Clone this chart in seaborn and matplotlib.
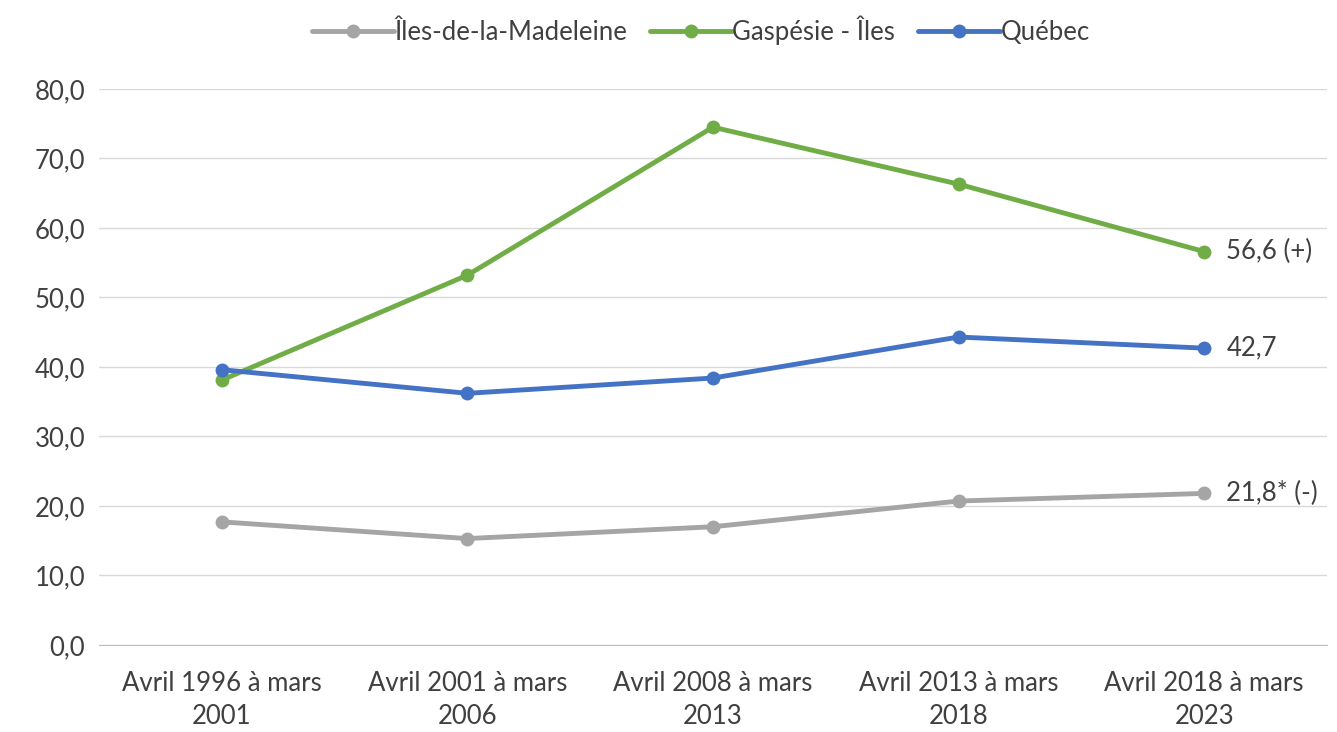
import numpy as np
import pandas as pd
import matplotlib
matplotlib.use('Agg')
import matplotlib.pyplot as plt
import seaborn as sns

periods = ['Avril 1996 à mars\n2001', 'Avril 2001 à mars\n2006', 'Avril 2008 à mars\n2013',
           'Avril 2013 à mars\n2018', 'Avril 2018 à mars\n2023']
series = ['Îles-de-la-Madeleine', 'Gaspésie - Îles', 'Québec']
iles = [17.7, 15.3, 17.0, 20.7, 21.8]
gaspesie = [38.1, 53.2, 74.5, 66.3, 56.6]
quebec = [39.6, 36.2, 38.4, 44.3, 42.7]
end_labels = ['21,8* (-)', '56,6 (+)', '42,7']
colors = ['#A5A5A5', '#70AD47', '#4472C4']

df = pd.DataFrame({
    'x': list(range(len(periods))) * 3,
    'valeur': iles + gaspesie + quebec,
    'serie': [s for s in series for _ in periods],
})

sns.set_style('white')
plt.rcParams['font.family'] = ['Lato', 'DejaVu Sans']

fig = plt.figure(figsize=(13.37, 7.32), dpi=100)
ax = fig.add_axes([0.074, 0.119, 0.9185, 0.7595])

sns.lineplot(data=df, x='x', y='valeur', hue='serie', hue_order=series,
             palette=colors, marker='o', markersize=10, markeredgewidth=0,
             linewidth=3.5, ax=ax, legend=True)

FS = 18.5
ax.set_ylim(0, 80)
ax.set_yticks(np.arange(0, 81, 10))
ax.set_yticklabels([f'{v:.1f}'.replace('.', ',') for v in np.arange(0, 81, 10)],
                   fontsize=FS, color='#404040')
ax.set_xlim(-0.5, len(periods) - 0.5)
ax.set_xticks(range(len(periods)))
ax.set_xticklabels(periods, fontsize=FS, color='#404040', linespacing=1.4)
ax.set_xticks(np.arange(-0.5, len(periods)), minor=True)
ax.tick_params(axis='x', which='major', length=0, pad=19)
ax.tick_params(axis='x', which='minor', length=7, color='#BFBFBF', width=1)
ax.tick_params(axis='y', length=0, pad=10)
ax.set_xlabel('')
ax.set_ylabel('')
ax.grid(axis='y', color='#D9D9D9', linewidth=1)
for s in ['top', 'right', 'left']:
    ax.spines[s].set_visible(False)
ax.spines['bottom'].set_color('#BFBFBF')

vals = [iles, gaspesie, quebec]
for v, lab in zip(vals, end_labels):
    ax.annotate(lab, (len(periods) - 1, v[-1]), xytext=(16, 0), textcoords='offset points',
                va='center', ha='left', fontsize=FS, color='#404040')

handles, labels = ax.get_legend_handles_labels()
ax.legend(handles, labels, loc='center', bbox_to_anchor=(0.49, 1.105), ncol=3,
          frameon=False, fontsize=FS, handlelength=3.2, handletextpad=0.0,
          columnspacing=0.9, labelcolor='#404040')

fig.savefig('out.png', dpi=100)
